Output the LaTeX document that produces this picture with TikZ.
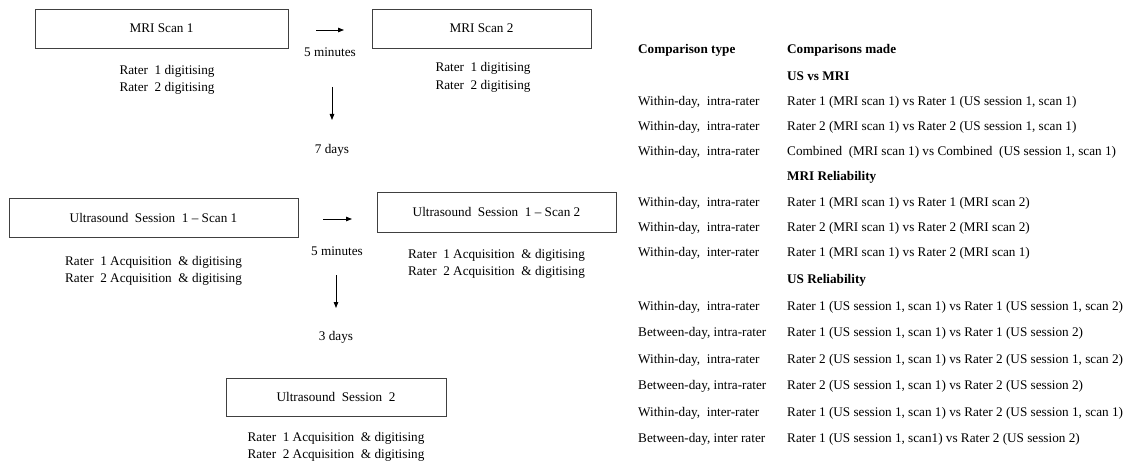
\documentclass[tikz,border=0pt]{standalone}
\usepackage{fontspec}
\setmainfont{Liberation Serif}
\usetikzlibrary{arrows.meta,positioning}

\begin{document}
\begin{tikzpicture}[
    x=1pt, y=-1pt,
    every node/.style={font=\fontsize{13.2}{17.5}\selectfont, inner sep=0pt},
    box/.style={
      draw=black!75, line width=0.9pt,
      minimum height=39pt, align=center
    },
    rater/.style={align=center},
    gap/.style={anchor=center},
    rowtype/.style={anchor=west},
    rowhead/.style={anchor=west, font=\fontsize{13.2}{17.5}\selectfont\bfseries},
    arrow/.style={-{Triangle[length=6pt,width=4.5pt]}, line width=0.8pt, black}
  ]

    \useasboundingbox (0,0) rectangle (1132,465);

    \node[box, minimum width=253pt] (mri1) at (161.5,28.5) {MRI Scan 1};
    \node[box, minimum width=219pt] (mri2) at (481.5,28.5) {MRI Scan 2};
    \node[rater, below=16.5pt of mri1, xshift=5.5pt] (mri1r)
      {Rater~ 1 digitising\\Rater~ 2 digitising};
    \node[rater, below=14pt of mri2, xshift=1.5pt] (mri2r)
      {Rater~ 1 digitising\\Rater~ 2 digitising};

    \node[box, minimum width=289pt] (us11) at (153.5,217.5)
      {Ultrasound~ Session~ 1 -- Scan 1};
    \node[box, minimum width=239pt, minimum height=40pt] (us12) at (496.5,212)
      {Ultrasound~ Session~ 1 -- Scan 2};
    \node[rater, below=18.5pt of us11] (us11r)
      {Rater~ 1 Acquisition~ \& digitising\\Rater~ 2 Acquisition~ \& digitising};
    \node[rater, below=16.5pt of us12] (us12r)
      {Rater~ 1 Acquisition~ \& digitising\\Rater~ 2 Acquisition~ \& digitising};

    \node[box, minimum width=220pt, minimum height=38pt] (us2) at (336,397)
      {Ultrasound~ Session~ 2};
    \node[rater, below=15.5pt of us2] (us2r)
      {Rater~ 1 Acquisition~ \& digitising\\Rater~ 2 Acquisition~ \& digitising};

    \node[gap] (min1) at (330,52) {5 minutes};
    \node[gap] (days7) at (332,150) {7 days};
    \node[gap] (min2) at (337,251) {5 minutes};
    \node[gap] (days3) at (336,337) {3 days};

    \coordinate (a1s) at (316,30);
    \coordinate (a1e) at (344,30);
    \coordinate (a2s) at (332,87);
    \coordinate (a2e) at (332,120);
    \coordinate (a3s) at (323,219);
    \coordinate (a3e) at (352,219);
    \coordinate (a4s) at (336,275);
    \coordinate (a4e) at (336,308);

    \draw[arrow] (a1s) -- (a1e);
    \draw[arrow] (a2s) -- (a2e);
    \draw[arrow] (a3s) -- (a3e);
    \draw[arrow] (a4s) -- (a4e);

    \node[rowhead] (htype) at (638,50) {Comparison type};
    \node[rowhead] (hmade) at (787,50) {Comparisons made};

    \node[rowhead] (sec1) at (787,76) {US vs MRI};
    \node[rowtype] (type1) at (638,102) {Within-day,~ intra-rater};
    \node[rowtype] (made1) at (787,102) {Rater 1 (MRI scan 1) vs Rater 1 (US session 1, scan 1)};
    \node[rowtype] (type2) at (638,127) {Within-day,~ intra-rater};
    \node[rowtype] (made2) at (787,127) {Rater 2 (MRI scan 1) vs Rater 2 (US session 1, scan 1)};
    \node[rowtype] (type3) at (638,152) {Within-day,~ intra-rater};
    \node[rowtype] (made3) at (787,152) {Combined~ (MRI scan 1) vs Combined~ (US session 1, scan 1)};

    \node[rowhead] (sec2) at (787,177) {MRI Reliability};
    \node[rowtype] (type4) at (638,203) {Within-day,~ intra-rater};
    \node[rowtype] (made4) at (787,203) {Rater 1 (MRI scan 1) vs Rater 1 (MRI scan 2)};
    \node[rowtype] (type5) at (638,228) {Within-day,~ intra-rater};
    \node[rowtype] (made5) at (787,228) {Rater 2 (MRI scan 1) vs Rater 2 (MRI scan 2)};
    \node[rowtype] (type6) at (638,253) {Within-day,~ inter-rater};
    \node[rowtype] (made6) at (787,253) {Rater 1 (MRI scan 1) vs Rater 2 (MRI scan 1)};

    \node[rowhead] (sec3) at (787,280) {US Reliability};
    \node[rowtype] (type7) at (638,307) {Within-day,~ intra-rater};
    \node[rowtype] (made7) at (787,307) {Rater 1 (US session 1, scan 1) vs Rater 1 (US session 1, scan 2)};
    \node[rowtype] (type8) at (638,333) {Between-day, intra-rater};
    \node[rowtype] (made8) at (787,333) {Rater 1 (US session 1, scan 1) vs Rater 1 (US session 2)};
    \node[rowtype] (type9) at (638,360) {Within-day,~ intra-rater};
    \node[rowtype] (made9) at (787,360) {Rater 2 (US session 1, scan 1) vs Rater 2 (US session 1, scan 2)};
    \node[rowtype] (type10) at (638,386) {Between-day, intra-rater};
    \node[rowtype] (made10) at (787,386) {Rater 2 (US session 1, scan 1) vs Rater 2 (US session 2)};
    \node[rowtype] (type11) at (638,413) {Within-day,~ inter-rater};
    \node[rowtype] (made11) at (787,413) {Rater 1 (US session 1, scan 1) vs Rater 2 (US session 1, scan 1)};
    \node[rowtype] (type12) at (638,439) {Between-day, inter rater};
    \node[rowtype] (made12) at (787,439) {Rater 1 (US session 1, scan1) vs Rater 2 (US session 2)};

  \end{tikzpicture}
\end{document}
